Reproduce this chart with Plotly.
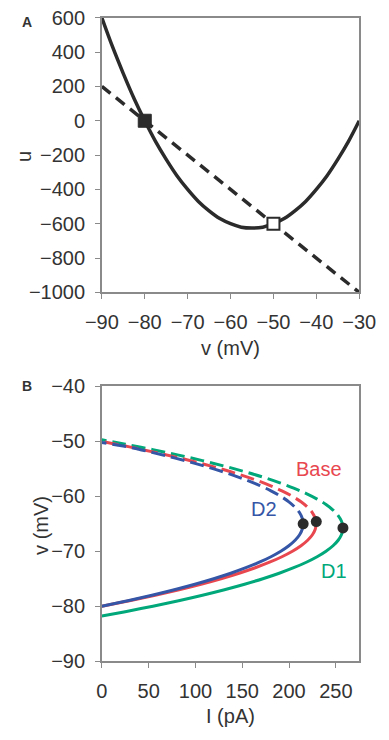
import plotly.graph_objects as go

# ---------------- Panel A data ----------------
a_v = [-90, -87.5, -85, -82.5, -80, -77.5, -75, -72.5, -70, -67.5, -65, -62.5, -60,
       -57.5, -55, -52.5, -50, -47.5, -45, -42.5, -40, -37.5, -35, -32.5, -30]
a_u_parabola = [600, 430, 275, 130, 0, -120, -225, -320, -400, -470, -525, -570, -600,
                -620, -625, -620, -600, -570, -525, -470, -400, -320, -225, -120, 0]
a_line_v = [-90, -30]
a_line_u = [200, -1000]
stable_pt = (-80, 0)
unstable_pt = (-50, -600)

a_xticks = [-90, -80, -70, -60, -50, -40, -30]
a_yticks = [-1000, -800, -600, -400, -200, 0, 200, 400, 600]

# ---------------- Panel B data ----------------
base_lo_v = [-80, -79, -78, -77, -76, -75, -74, -73, -72, -71, -70, -69, -68, -67, -66, -65]
base_lo_I = [0, 29.5, 57.0, 82.5, 105.9, 127.3, 146.6, 163.9, 179.2, 192.4, 203.6, 212.8, 219.9, 225.0, 228.0, 229.1]
base_up_v = [-65, -64, -63, -62, -61, -60, -59, -58, -57, -56, -55, -54, -53, -52, -51, -50]
base_up_I = [229.1, 228.0, 225.0, 219.9, 212.8, 203.6, 192.4, 179.2, 163.9, 146.6, 127.3, 105.9, 82.5, 57.0, 29.5, 0]
d2_lo_v = [-80, -79, -78, -77, -76, -75, -74, -73, -72, -71, -70, -69, -68, -67, -66, -65]
d2_lo_I = [0, 27.7, 53.5, 77.4, 99.4, 119.5, 137.7, 153.9, 168.3, 180.7, 191.2, 199.8, 206.5, 211.3, 214.1, 215.1]
d2_up_v = [-65, -64, -63, -62, -61, -60, -59, -58, -57, -56, -55, -54, -53, -52, -51, -50.2]
d2_up_I = [215.1, 214.1, 211.3, 206.5, 199.8, 191.2, 180.7, 168.3, 153.9, 137.7, 119.5, 99.4, 77.4, 53.5, 27.7, 0]
d1_lo_v = [-81.8, -81, -80, -79, -78, -77, -76, -75, -74, -73, -72, -71, -70, -69, -68, -67, -66, -65.75]
d1_lo_I = [0, 25.0, 54.5, 82.0, 107.5, 131.0, 152.5, 172.0, 189.5, 205.0, 218.5, 230.0, 239.5, 247.0, 252.5, 256.0, 257.5, 257.6]
d1_up_v = [-65.75, -65.5, -64.5, -63.5, -62.5, -61.5, -60.5, -59.5, -58.5, -57.5, -56.5, -55.5, -54.5, -53.5, -52.5, -51.5, -50.5, -49.7]
d1_up_I = [257.6, 257.5, 256.0, 252.5, 247.0, 239.5, 230.0, 218.5, 205.0, 189.5, 172.0, 152.5, 131.0, 107.5, 82.0, 54.5, 25.0, 0]

sn_I = [215.1, 229.1, 257.6]
sn_v = [-65.0, -64.6, -65.75]

b_xticks = [0, 50, 100, 150, 200, 250]
b_yticks = [-90, -80, -70, -60, -50, -40]

labels_text = ["Base", "D2", "D1"]
labels_I = [232, 173, 248]
labels_v = [-55.0, -62.3, -73.6]

RED = "#e8474f"
BLUE = "#3556a6"
GREEN = "#00a87a"
BLACK = "#2b2b2b"
TXT = "#333333"
AX = "#8a8a8a"
FONT = "Liberation Sans, Arial, sans-serif"
FS = 20


def fmt(v):
    return f"\u2212{abs(v)}" if v < 0 else str(v)


fig = go.Figure()

fig.add_trace(go.Scatter(x=a_v, y=a_u_parabola, mode="lines", line=dict(color=BLACK, width=3.5, shape="spline"),
                         xaxis="x", yaxis="y", showlegend=False))
fig.add_trace(go.Scatter(x=a_line_v, y=a_line_u, mode="lines", line=dict(color=BLACK, width=3.5, dash="11px,7px"),
                         xaxis="x", yaxis="y", showlegend=False))
fig.add_trace(go.Scatter(x=[stable_pt[0]], y=[stable_pt[1]], mode="markers",
                         marker=dict(symbol="square", size=13, color=BLACK, line=dict(color=BLACK, width=1)),
                         xaxis="x", yaxis="y", showlegend=False))
fig.add_trace(go.Scatter(x=[unstable_pt[0]], y=[unstable_pt[1]], mode="markers",
                         marker=dict(symbol="square", size=12, color="white", line=dict(color=BLACK, width=2)),
                         xaxis="x", yaxis="y", showlegend=False))

for lo_v, lo_I, up_v, up_I, col in [
    (d1_lo_v, d1_lo_I, d1_up_v, d1_up_I, GREEN),
    (base_lo_v, base_lo_I, base_up_v, base_up_I, RED),
    (d2_lo_v, d2_lo_I, d2_up_v, d2_up_I, BLUE),
]:
    fig.add_trace(go.Scatter(x=up_I, y=up_v, mode="lines", line=dict(color=col, width=3, dash="14px,6px", shape="spline"),
                             xaxis="x2", yaxis="y2", showlegend=False))
    fig.add_trace(go.Scatter(x=lo_I, y=lo_v, mode="lines", line=dict(color=col, width=3, shape="spline"),
                             xaxis="x2", yaxis="y2", showlegend=False))

fig.add_trace(go.Scatter(x=sn_I, y=sn_v, mode="markers", marker=dict(size=11, color=BLACK),
                         xaxis="x2", yaxis="y2", showlegend=False))

for t, xi, yi, col in zip(labels_text, labels_I, labels_v, [RED, BLUE, GREEN]):
    fig.add_annotation(x=xi, y=yi, xref="x2", yref="y2", text=t, showarrow=False,
                       font=dict(family=FONT, size=FS, color=col))

W, H = 389, 740
axis_common = dict(showline=True, linecolor=AX, linewidth=1.5, mirror=True, ticks="outside",
                   ticklen=5, tickcolor=AX, tickwidth=1.2, showgrid=False, zeroline=False,
                   ticklabeloverflow="allow", ticklabelstandoff=6,
                   tickfont=dict(family=FONT, size=FS, color=TXT))

fig.update_layout(
    width=W, height=H, margin=dict(l=0, r=0, t=0, b=0),
    paper_bgcolor="white", plot_bgcolor="white",
    xaxis=dict(domain=[93 / W, 375 / W], range=[-90, -30], tickvals=a_xticks,
               ticktext=[fmt(v) for v in a_xticks], anchor="y", **axis_common),
    yaxis=dict(domain=[1 - 290 / H, 1 - 7 / H], range=[-1000, 600], tickvals=a_yticks,
               ticktext=[fmt(v) for v in a_yticks], anchor="x", **axis_common),
    xaxis2=dict(domain=[93 / W, 375 / W], range=[0, 275], tickvals=b_xticks,
                ticktext=[fmt(v) for v in b_xticks], anchor="y2", **axis_common),
    yaxis2=dict(domain=[1 - 670 / H, 1 - 387 / H], range=[-90, -40], tickvals=b_yticks,
                ticktext=[fmt(v) for v in b_yticks], anchor="x2", **axis_common),
)


def paper_text(x, y, text, size, bold=False, angle=0):
    fig.add_annotation(x=x / W, y=1 - y / H, xref="paper", yref="paper", text=f"<b>{text}</b>" if bold else text,
                       showarrow=False, textangle=angle, xanchor="center", yanchor="middle",
                       font=dict(family=FONT, size=size, color=TXT))


paper_text(234, 347, "v (mV)", FS)
paper_text(234, 727, "I (pA)", FS)
paper_text(7, 150, "u", FS, angle=-90)
paper_text(27, 530, "v (mV)", FS, angle=-90)
paper_text(11, 11, "A", 14, bold=True)
paper_text(11, 387, "B", 14, bold=True)

fig.write_html("out.html", config={"displayModeBar": False},
               post_script="document.body.style.margin='0px';document.body.style.padding='0px';")
